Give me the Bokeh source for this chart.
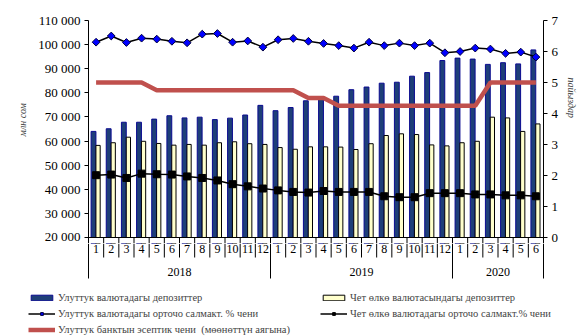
import math
from bokeh.plotting import figure
from bokeh.layouts import column
from bokeh.models import (Range1d, LinearAxis, FixedTicker, Span, Legend, LegendItem,
                          Title)
from bokeh.core.properties import value
from bokeh.embed import file_html
from bokeh.resources import INLINE

# ---------------- data ----------------
year_labels = ["2018", "2019", "2020"]
year_month_counts = [12, 12, 6]
month_labels = ["1", "2", "3", "4", "5", "6", "7", "8", "9", "10", "11", "12",
                "1", "2", "3", "4", "5", "6", "7", "8", "9", "10", "11", "12",
                "1", "2", "3", "4", "5", "6"]

dep_national = [64000, 65100, 67800, 67800, 69100, 70500, 69600, 69900, 68900, 69500,
                70800, 74800, 72600, 73900, 76700, 77400, 78600, 81300, 82400, 84000,
                84400, 86900, 88400, 93400, 94400, 94000, 91800, 92500, 92000, 97800]
dep_foreign = [58200, 59300, 61600, 59900, 59000, 58300, 58600, 58300, 59300, 59700,
               58900, 58600, 57300, 56600, 57600, 57600, 57500, 56500, 58900, 62300,
               63000, 62700, 58400, 58000, 59300, 59900, 69900, 69600, 64000, 67100]
rate_national = [6.30, 6.50, 6.29, 6.43, 6.40, 6.33, 6.28, 6.56, 6.58, 6.30,
                 6.34, 6.14, 6.38, 6.42, 6.33, 6.26, 6.19, 6.11, 6.30, 6.19,
                 6.27, 6.19, 6.27, 5.96, 6.00, 6.11, 6.08, 5.94, 5.98, 5.82]
rate_foreign = [2.01, 2.03, 1.92, 2.06, 2.04, 2.03, 1.97, 1.92, 1.84, 1.72,
                1.65, 1.58, 1.52, 1.47, 1.45, 1.50, 1.47, 1.47, 1.47, 1.33,
                1.30, 1.30, 1.43, 1.43, 1.43, 1.39, 1.39, 1.36, 1.36, 1.33]
policy_rate = [5.00, 5.00, 5.00, 5.00, 4.75, 4.75, 4.75, 4.75, 4.75, 4.75,
               4.75, 4.75, 4.75, 4.75, 4.50, 4.50, 4.25, 4.25, 4.25, 4.25,
               4.25, 4.25, 4.25, 4.25, 4.25, 4.25, 5.00, 5.00, 5.00, 5.00]

left_ticks = [20000, 30000, 40000, 50000, 60000, 70000, 80000, 90000, 100000, 110000]
left_tick_labels = ["20 000", "30 000", "40 000", "50 000", "60 000", "70 000",
                    "80 000", "90 000", "100 000", "110 000"]
right_ticks = [0, 1, 2, 3, 4, 5, 6, 7]

names = ["Улуттук валютадагы депозиттер",
         "Чет өлкө валютасындагы депозиттер",
         "Улуттук валютадагы орточо салмакт. % чени",
         "Чет өлкө валютадагы орточо салмакт.% чени",
         "Улуттук банктын эсептик чени  (мөөнөттүн аягына)"]
left_title = "млн сом"
right_title = "пайыздар"

# ---------------- styles ----------------
SERIF = "Liberation Serif"
NAT_FILL, NAT_LINE = "#1E3F78", "#0A0A90"
FOR_FILL, FOR_LINE = "#FFFFCC", "black"
RED = "#C0504D"

# ---------------- layout ----------------
W, H = 587, 336
top_px, axis_px = 20, 237
main_h = 243
left_px, right_px = 88, 543
plot_h = axis_px - top_px
l_min, l_max = left_ticks[0], left_ticks[-1]
r_min, r_max = right_ticks[0], right_ticks[-1]
l_per_px = (l_max - l_min) / plot_h
r_per_px = (r_max - r_min) / plot_h
extra_px = main_h - axis_px
y_left_lo = l_min - extra_px * l_per_px
y_right_lo = r_min - extra_px * r_per_px

n = len(month_labels)
xc = [i + 0.5 for i in range(n)]


def no_align(fig):
    if "frame_align" in fig.properties():
        fig.frame_align = False


p = figure(width=W, height=main_h, output_backend="svg", toolbar_location=None,
           x_range=Range1d(0, n), y_range=Range1d(y_left_lo, l_max),
           x_axis_location=None, y_axis_location=None,
           min_border_left=left_px, min_border_right=W - right_px,
           min_border_top=top_px, min_border_bottom=0)
no_align(p)
p.outline_line_color = None
p.xgrid.visible = False
p.ygrid.visible = False
p.background_fill_color = "white"
p.border_fill_color = "white"
p.extra_y_ranges = {"pct": Range1d(y_right_lo, r_max)}

la = LinearAxis(ticker=FixedTicker(ticks=left_ticks))
la.major_label_overrides = {t: s for t, s in zip(left_ticks, left_tick_labels)}
ra = LinearAxis(y_range_name="pct", ticker=FixedTicker(ticks=right_ticks))
for ax in (la, ra):
    ax.major_tick_in = 0
    ax.major_tick_out = 4
    ax.minor_tick_out = 0
    ax.minor_tick_in = 0
    ax.major_label_text_font = SERIF
    ax.major_label_text_font_size = "13px"
    ax.major_label_text_color = "black"
    ax.axis_line_color = "black"
    ax.major_tick_line_color = "black"
    ax.major_label_standoff = 4
p.add_layout(la, "left")
p.add_layout(ra, "right")

p.add_layout(Title(text=left_title, align="left", offset=107, standoff=15,
                   text_font=SERIF, text_font_style="italic", text_font_size="10px"), "left")
p.add_layout(Title(text=right_title, align="left", offset=57, standoff=8,
                   text_font=SERIF, text_font_style="italic", text_font_size="10px"), "right")

p.add_layout(Span(location=l_min, dimension="width", line_color="black", line_width=1))

bar_kw_n = dict(fill_color=NAT_FILL, line_color=NAT_LINE, line_width=1)
bar_kw_f = dict(fill_color=FOR_FILL, line_color=FOR_LINE, line_width=1)
xb_n = [x - 0.17 for x in xc]
xb_f = [x + 0.13 for x in xc]
p.vbar(x=xb_n, top=dep_national, bottom=l_min, width=0.32, **bar_kw_n)
p.vbar(x=xb_f, top=dep_foreign, bottom=l_min, width=0.28, **bar_kw_f)

red_kw = dict(line_color=RED, line_width=4.5)
ln_kw = dict(line_color="black", line_width=1.5)
mk_n_kw = dict(marker="square", angle=math.pi / 4, size=5.5, fill_color="#0000FF",
               line_color="#000040", line_width=1)
mk_f_kw = dict(marker="square", size=7, fill_color="black", line_color="black")
p.line(xc, policy_rate, y_range_name="pct", **red_kw)
p.line(xc, rate_national, y_range_name="pct", **ln_kw)
p.scatter(xc, rate_national, y_range_name="pct", **mk_n_kw)
p.line(xc, rate_foreign, y_range_name="pct", **ln_kw)
p.scatter(xc, rate_foreign, y_range_name="pct", **mk_f_kw)

# category boundaries
year_bounds = [0]
acc = 0
for c in year_month_counts:
    acc += c
    year_bounds.append(acc)
inner = list(range(1, n))
mb = [b for b in range(n + 1) if b not in year_bounds]
# upper part of the category separators (below the 20 000 line, inside the main frame)
p.segment(x0=inner, y0=[l_min] * len(inner), x1=inner, y1=[y_left_lo] * len(inner),
          line_color="black", line_width=1)

# ---------------- category axis + legend (second figure) ----------------
bot_h = H - main_h
cw = (right_px - left_px) / n
pb = figure(width=W, height=bot_h, output_backend="svg", toolbar_location=None,
            x_range=Range1d(-left_px / cw, n + (W - right_px) / cw),
            y_range=Range1d(bot_h, 0),
            x_axis_location=None, y_axis_location=None,
            min_border_left=0, min_border_right=0, min_border_top=0, min_border_bottom=0)
no_align(pb)
pb.outline_line_color = None
pb.xgrid.visible = False
pb.ygrid.visible = False
pb.background_fill_color = "white"
pb.border_fill_color = "white"
pb.extra_y_ranges = {"proxy_l": Range1d(-2 * l_max, -l_max),
                     "proxy_r": Range1d(-2 * r_max - 10, -r_max - 10)}

month_sep_len = 257 - main_h
year_sep_len = 278 - main_h
pb.segment(x0=mb, y0=[0] * len(mb), x1=mb, y1=[month_sep_len] * len(mb),
           line_color="black", line_width=1)
pb.segment(x0=year_bounds, y0=[0] * len(year_bounds), x1=year_bounds,
           y1=[year_sep_len] * len(year_bounds), line_color="black", line_width=1)

pb.text(x=xc, y=[248 - main_h] * n, text=month_labels, text_align="center",
        text_baseline="middle", text_font=value(SERIF), text_font_size="12px", text_color="black")
ycent = []
acc = 0
for c in year_month_counts:
    ycent.append(acc + c / 2)
    acc += c
pb.text(x=ycent, y=[271 - main_h] * len(ycent), text=year_labels, text_align="center",
        text_baseline="middle", text_font=value(SERIF), text_font_size="12px", text_color="black")

# legend proxies (same styles and data as the chart series, drawn outside this panel)
lb_n = pb.vbar(x=xb_n, top=dep_national, bottom=l_min, width=0.32, y_range_name="proxy_l", **bar_kw_n)
lb_f = pb.vbar(x=xb_f, top=dep_foreign, bottom=l_min, width=0.28, y_range_name="proxy_l", **bar_kw_f)
ll_n = pb.line(xc, rate_national, y_range_name="proxy_r", **ln_kw)
lm_n = pb.scatter(xc, rate_national, y_range_name="proxy_r", **mk_n_kw)
ll_f = pb.line(xc, rate_foreign, y_range_name="proxy_r", **ln_kw)
lm_f = pb.scatter(xc, rate_foreign, y_range_name="proxy_r", **mk_f_kw)
l_red = pb.line(xc, policy_rate, y_range_name="proxy_r", **red_kw)


def mk_legend(items, loc):
    return Legend(items=items, location=loc, orientation="vertical",
                  glyph_width=27, glyph_height=7, label_height=12, spacing=4,
                  padding=0, margin=0, border_line_color=None, background_fill_alpha=0,
                  label_text_font=SERIF, label_text_font_size="10.5px", label_standoff=3)


leg1 = mk_legend([LegendItem(label=names[0], renderers=[lb_n]),
                  LegendItem(label=names[2], renderers=[ll_n, lm_n]),
                  LegendItem(label=names[4], renderers=[l_red])], (28, 1))
leg2 = mk_legend([LegendItem(label=names[1], renderers=[lb_f]),
                  LegendItem(label=names[3], renderers=[ll_f, lm_f])], (320, 17))
pb.add_layout(leg1, "center")
pb.add_layout(leg2, "center")

layout = column(p, pb, spacing=0)
open("out.html", "w").write(file_html(layout, INLINE))
